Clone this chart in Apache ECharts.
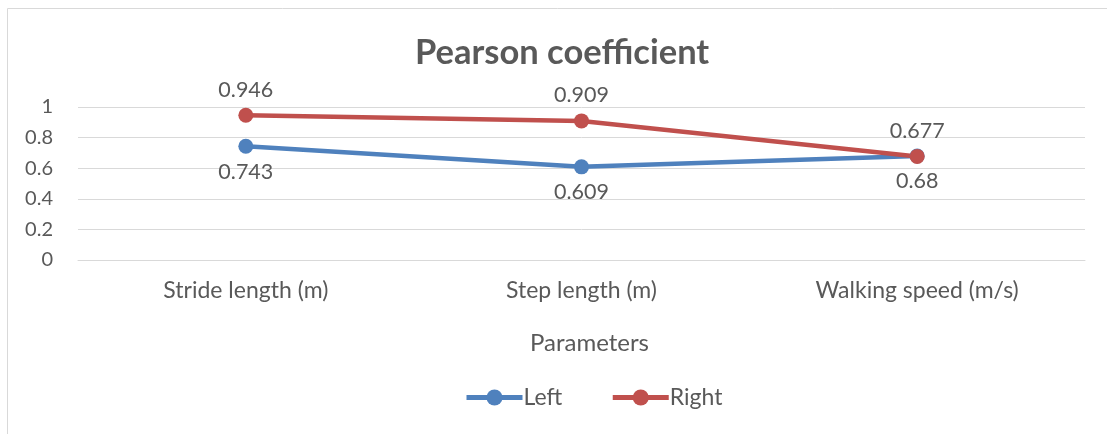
<!DOCTYPE html>
<html><head><meta charset="utf-8">
<script src="https://cdn.jsdelivr.net/npm/echarts@6/dist/echarts.min.js"></script>
<style>html,body{margin:0;padding:0;background:#fff}#c{width:1107px;height:434px}</style>
</head><body><div id="c"></div>
<script>
const categories = ['Stride length (m)', 'Step length (m)', 'Walking speed (m/s)'];
const leftValues = [0.743, 0.609, 0.68];
const rightValues = [0.946, 0.909, 0.677];
const yTicks = [0, 0.2, 0.4, 0.6, 0.8, 1];

const font = 'Lato, "Open Sans", sans-serif';
const txt = '#595959';
const chart = echarts.init(document.getElementById('c'));
chart.setOption({
  animation: false,
  graphic: [{type:'rect', shape:{x:7.5,y:8.5,width:1200,height:500}, style:{fill:'none', stroke:'#d9d9d9', lineWidth:1}, silent:true}],
  title: {text:'Pearson coefficient', left:410, top:30, textStyle:{fontFamily:font, fontSize:34.5, fontWeight:'bold', color:txt}},
  grid: {left:78, right:22, top:107, bottom:174, containLabel:false},
  legend: {bottom:20, left:459, itemWidth:56, itemHeight:20, itemGap:48,
    lineStyle:{width:5},
    textStyle:{fontFamily:font, fontSize:23, color:txt, padding:[0,0,0,-4]}, data:['Left','Right']},
  xAxis: {type:'category', data:categories, boundaryGap:true,
    axisTick:{show:false}, axisLine:{lineStyle:{color:'#d9d9d9', width:1}},
    axisLabel:{fontFamily:font, fontSize:23, color:txt, margin:19},
    name:'Parameters', nameLocation:'middle', nameGap:71,
    nameTextStyle:{fontFamily:font, fontSize:24, color:txt, padding:[0,0,0,16]}},
  yAxis: {type:'value', min:0, max:1, interval:0.2,
    axisLine:{show:false}, axisTick:{show:false},
    axisLabel:{fontFamily:font, fontSize:20, color:txt, margin:25, formatter:v=>String(Math.round(v*10)/10)},
    splitLine:{lineStyle:{color:'#d9d9d9', width:1}}},
  series: [
    {name:'Left', type:'line', data:leftValues, color:'#4F81BD', symbol:'circle', symbolSize:15,
      lineStyle:{width:4.5}, label:{show:true, position:'bottom', distance:7, fontFamily:font, fontSize:21.5, color:txt}},
    {name:'Right', type:'line', data:rightValues, color:'#C0504D', symbol:'circle', symbolSize:15,
      lineStyle:{width:4.5}, label:{show:true, position:'top', distance:7, fontFamily:font, fontSize:21.5, color:txt}}
  ]
});
</script></body></html>
